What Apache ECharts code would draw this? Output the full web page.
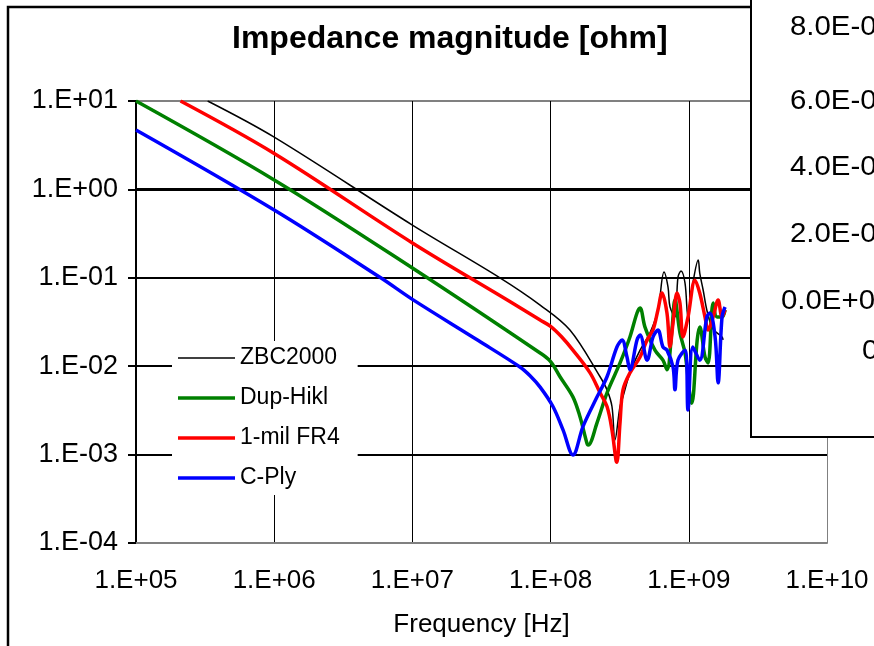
<!DOCTYPE html>
<html>
  <head>
    <title>Impedance magnitude</title>
    <meta http-equiv="content-type" content="text/html; charset=UTF-8">
    <script src="https://cdn.jsdelivr.net/npm/echarts@6/dist/echarts.min.js"></script>
    <style>
      html, body { margin: 0; padding: 0; background: #fff; }
      #main { width: 874px; height: 646px; }
    </style>
  </head>
  <body>
    <div id="main"></div>
  <script type="text/javascript">

// tick labels (Excel style)
var xTickLabels = ['1.E+05', '1.E+06', '1.E+07', '1.E+08', '1.E+09', '1.E+10'];
var yTickLabels = ['1.E-04', '1.E-03', '1.E-02', '1.E-01', '1.E+00', '1.E+01'];
var seriesNames = ['ZBC2000', 'Dup-Hikl', '1-mil FR4', 'C-Ply'];

// [frequency Hz, |Z| ohm]
var zbc2000 = [
  [3.3e5, 10], [1e6, 3.9], [1e7, 0.395], [4.3e7, 0.1], [8.4e7, 0.0492],
  [1.38e8, 0.0257], [2.28e8, 0.0076], [2.56e8, 0.0054], [2.78e8, 0.0035],
  [2.92e8, 0.00146], [3.18e8, 0.0035], [3.34e8, 0.0045], [3.75e8, 0.0084],
  [4.44e8, 0.0152], [5.24e8, 0.0238], [5.98e8, 0.0432], [6.62e8, 0.116],
  [7.07e8, 0.0787], [7.31e8, 0.0468], [7.94e8, 0.036], [8.35e8, 0.102],
  [8.78e8, 0.119], [9.39e8, 0.087], [9.87e8, 0.036], [1.07e9, 0.087],
  [1.17e9, 0.159], [1.2e9, 0.113], [1.27e9, 0.0728], [1.35e9, 0.0432],
  [1.47e9, 0.0277], [1.6e9, 0.0238], [1.74e9, 0.0214], [1.77e9, 0.0198]
];
var dupHikl = [
  [1e5, 10], [1e6, 1.28], [1e7, 0.129], [8.4e7, 0.0141], [1e8, 0.0113],
  [1.17e8, 0.0076],
  [1.45e8, 0.0045], [1.63e8, 0.0027], [1.83e8, 0.00135], [1.87e8, 0.00128],
  [2.17e8, 0.0023], [2.56e8, 0.005], [3.18e8, 0.0109], [3.75e8, 0.0214],
  [4.22e8, 0.04], [4.44e8, 0.0455], [4.82e8, 0.0277], [5.69e8, 0.0152],
  [6.5e8, 0.0117], [6.95e8, 0.0091], [7.55e8, 0.0257], [7.94e8, 0.0561],
  [8.63e8, 0.0238], [9.39e8, 0.0141], [1.05e9, 0.0038], [1.15e9, 0.0198],
  [1.2e9, 0.0277], [1.31e9, 0.0127], [1.38e9, 0.0109], [1.5e9, 0.0519],
  [1.6e9, 0.036], [1.74e9, 0.036], [1.83e9, 0.0432]
];
var fr4 = [
  [2.1e5, 10], [1e6, 2.55], [1e7, 0.248], [5e7, 0.0546], [8.4e7, 0.0333],
  [1e8, 0.0282], [1.2e8, 0.0215],
  [1.45e8, 0.0152], [1.93e8, 0.0084], [2.28e8, 0.005], [2.56e8, 0.0035],
  [2.78e8, 0.0019], [2.97e8, 0.00087], [3.02e8, 0.00082], [3.18e8, 0.0023],
  [3.34e8, 0.0054], [3.75e8, 0.0084], [4.44e8, 0.0127], [4.99e8, 0.0198],
  [5.51e8, 0.0257], [5.98e8, 0.0432], [6.4e8, 0.0673], [6.95e8, 0.04],
  [7.31e8, 0.0165], [7.69e8, 0.0308], [8.22e8, 0.0673], [8.63e8, 0.0519],
  [9.08e8, 0.0214], [9.87e8, 0.036], [1.11e9, 0.094], [1.2e9, 0.0673],
  [1.31e9, 0.036], [1.38e9, 0.0257], [1.5e9, 0.036], [1.63e9, 0.0561],
  [1.74e9, 0.036], [1.83e9, 0.0432]
];
var cPly = [
  [1e5, 4.7], [1e6, 0.585], [5.9e6, 0.1], [1e7, 0.057], [3e7, 0.0195],
  [6e7, 0.0098], [7.1e7, 0.0078],
  [8.4e7, 0.0058], [1.04e8, 0.0035], [1.23e8, 0.0019], [1.45e8, 0.00099],
  [1.72e8, 0.0021], [2.17e8, 0.0045], [2.56e8, 0.0076], [3.02e8, 0.0165],
  [3.29e8, 0.0198], [3.57e8, 0.0127], [3.75e8, 0.0091], [4.22e8, 0.0198],
  [4.44e8, 0.0225], [4.99e8, 0.0117], [5.51e8, 0.0214], [5.98e8, 0.0257],
  [6.5e8, 0.0165], [6.95e8, 0.0152], [7.69e8, 0.0098], [7.94e8, 0.0054],
  [8.35e8, 0.0117], [9.39e8, 0.0152], [9.87e8, 0.0032], [1.07e9, 0.0165],
  [1.2e9, 0.0117], [1.35e9, 0.036], [1.42e9, 0.04], [1.55e9, 0.0214],
  [1.63e9, 0.0065], [1.74e9, 0.036], [1.83e9, 0.0468]
];

// labels of the overlapping chart at the top right
var insetLabels = ['8.0E-02', '6.0E-02', '4.0E-02', '2.0E-02', '0.0E+00', '0'];

function tickLabel(list, v, first) {
  var e = Math.round(Math.log(v) / Math.LN10);
  return list[e - first] || '';
}

var myChart = echarts.init(document.getElementById('main'));

function mkSeries(name, data, color, width) {
  return {
    name: name,
    type: 'line',
    data: data,
    symbol: 'none',
    smooth: 0.35,
    clip: true,
    lineStyle: { color: color, width: width },
    itemStyle: { color: color }
  };
}

var insetPos = [[790, 27], [790, 101], [790, 167], [790, 234], [781, 301], [862, 351]];
var insetTexts = insetLabels.map(function (t, i) {
  return {
    type: 'text', x: insetPos[i][0], y: insetPos[i][1],
    scaleX: 1.05, z: 101, silent: true,
    style: { text: t, x: 0, y: 0, fontSize: 28, fontFamily: 'Liberation Sans',
      fill: '#000', textVerticalAlign: 'middle' }
  };
});

var option = {
  backgroundColor: '#fff',
  animation: false,
  title: {
    text: 'Impedance magnitude [ohm]',
    left: 227, top: 18,
    textStyle: { fontFamily: 'Liberation Sans', fontWeight: 'bold', fontSize: 32, color: '#000' }
  },
  legend: {
    orient: 'vertical',
    left: 172, top: 341,
    padding: [4, 18, 4, 6],
    backgroundColor: '#fff',
    itemWidth: 57, itemHeight: 14, itemGap: 14,
    textStyle: { fontFamily: 'Liberation Sans', fontSize: 23, color: '#000', lineHeight: 26 },
    data: seriesNames.map(function (n, i) {
      return { name: n, icon: i === 0 ? 'path://M0,0H57V1.5H0Z' : 'path://M0,0H57V3.5H0Z' };
    })
  },
  grid: { left: 136, top: 101, right: 47, bottom: 103, containLabel: false },
  xAxis: [{
    type: 'log', logBase: 10, min: 1e5, max: 1e10,
    name: 'Frequency [Hz]', nameLocation: 'middle', nameGap: 69,
    nameTextStyle: { fontFamily: 'Liberation Sans', fontSize: 26, color: '#000' },
    axisLine: { show: true, lineStyle: { color: '#808080', width: 2 } },
    axisTick: { show: false },
    axisLabel: {
      margin: 25, fontFamily: 'Liberation Sans', fontSize: 26, color: '#000',
      formatter: function (v) { return tickLabel(xTickLabels, v, 5); }
    },
    splitLine: { show: true, lineStyle: { color: ['#000', '#000', '#000', '#000', '#000', '#808080'], width: 1 } }
  }, {
    // Excel's axis crosses at 1.E+00: only the short ticks are shown there
    type: 'log', logBase: 10, min: 1e5, max: 1e10,
    position: 'bottom', offset: -354,
    axisLine: { show: true, lineStyle: { color: '#000', width: 2 } },
    axisTick: { show: true, inside: false, length: 7, lineStyle: { color: '#000', width: 1 } },
    axisLabel: { show: false },
    splitLine: { show: false }
  }],
  yAxis: {
    type: 'log', logBase: 10, min: 1e-4, max: 10,
    axisLine: { show: true, lineStyle: { color: '#000', width: 2 } },
    axisTick: { show: true, inside: false, length: 8, lineStyle: { color: '#000', width: 2 } },
    axisLabel: {
      margin: 18, fontFamily: 'Liberation Sans', fontSize: 27, color: '#000',
      formatter: function (v) { return tickLabel(yTickLabels, v, -4); }
    },
    splitLine: { show: true, lineStyle: { color: ['#808080', '#000', '#000', '#000', '#000', '#808080'], width: 2 } }
  },
  series: [
    mkSeries(seriesNames[0], zbc2000, '#000000', 1.5),
    mkSeries(seriesNames[1], dupHikl, '#008000', 3.5),
    mkSeries(seriesNames[2], fr4, '#ff0000', 3.5),
    mkSeries(seriesNames[3], cPly, '#0000ff', 3.5)
  ],
  graphic: [
    {
      type: 'rect', z: 99, silent: true,
      shape: { x: 8, y: 7, width: 1000, height: 1000 },
      style: { fill: null, stroke: '#000', lineWidth: 2.5 }
    },
    {
      type: 'rect', z: 100, silent: true,
      shape: { x: 751, y: -10, width: 200, height: 447 },
      style: { fill: '#fff', stroke: '#000', lineWidth: 2 }
    }
  ].concat(insetTexts)
};

myChart.setOption(option);

  </script>
  </body>
</html>
